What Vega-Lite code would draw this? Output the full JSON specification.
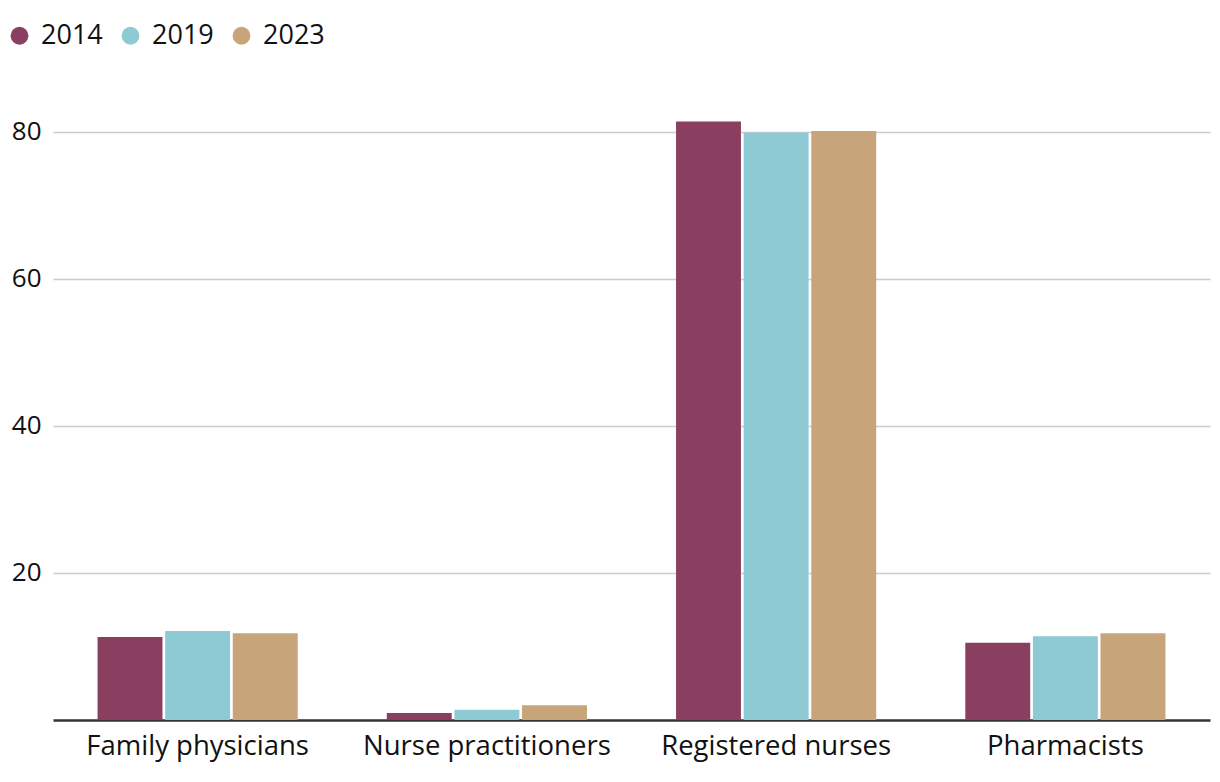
{
  "$schema": "https://vega.github.io/schema/vega-lite/v6.json",
  "autosize": "none",
  "width": 1157,
  "height": 625,
  "padding": {"left": 53, "top": 95, "right": 10, "bottom": 62},
  "background": "white",
  "config": {
    "font": "Open Sans",
    "view": {"stroke": null}
  },
  "data": {
    "values": [
      {"category": "Family physicians", "year": "2014", "value": 11.3},
      {"category": "Family physicians", "year": "2019", "value": 12.1},
      {"category": "Family physicians", "year": "2023", "value": 11.8},
      {"category": "Nurse practitioners", "year": "2014", "value": 0.95},
      {"category": "Nurse practitioners", "year": "2019", "value": 1.4},
      {"category": "Nurse practitioners", "year": "2023", "value": 2.0},
      {"category": "Registered nurses", "year": "2014", "value": 81.4},
      {"category": "Registered nurses", "year": "2019", "value": 79.9},
      {"category": "Registered nurses", "year": "2023", "value": 80.1},
      {"category": "Pharmacists", "year": "2014", "value": 10.5},
      {"category": "Pharmacists", "year": "2019", "value": 11.4},
      {"category": "Pharmacists", "year": "2023", "value": 11.8}
    ]
  },
  "mark": {"type": "bar"},
  "encoding": {
    "x": {
      "field": "category",
      "type": "nominal",
      "sort": ["Family physicians", "Nurse practitioners", "Registered nurses", "Pharmacists"],
      "scale": {"paddingInner": 0.308, "paddingOuter": 0.154},
      "axis": {
        "title": null,
        "labelAngle": 0,
        "labelFontSize": 27.5,
        "labelColor": "#111111",
        "labelPadding": 12,
        "ticks": false,
        "domainColor": "#333333",
        "domainWidth": 2.5,
        "labelLimit": 400
      }
    },
    "xOffset": {
      "field": "year",
      "type": "nominal",
      "scale": {"paddingInner": 0.04, "paddingOuter": 0}
    },
    "y": {
      "field": "value",
      "type": "quantitative",
      "scale": {"domain": [0, 85], "nice": false},
      "axis": {
        "title": null,
        "values": [20, 40, 60, 80],
        "labelFontSize": 26,
        "labelColor": "#111111",
        "labelPadding": 12,
        "ticks": false,
        "domain": false,
        "gridColor": "#cccccc",
        "gridWidth": 1.5
      }
    },
    "color": {
      "field": "year",
      "type": "nominal",
      "scale": {
        "domain": ["2014", "2019", "2023"],
        "range": ["#8a3f61", "#8ecad4", "#c7a47a"]
      },
      "legend": {
        "title": null,
        "orient": "none",
        "direction": "horizontal",
        "legendX": -47,
        "legendY": -73,
        "symbolType": "circle",
        "symbolSize": 320,
        "symbolStrokeWidth": 0,
        "labelFontSize": 27,
        "labelColor": "#111111",
        "labelOffset": 8,
        "columnPadding": 14
      }
    }
  }
}
